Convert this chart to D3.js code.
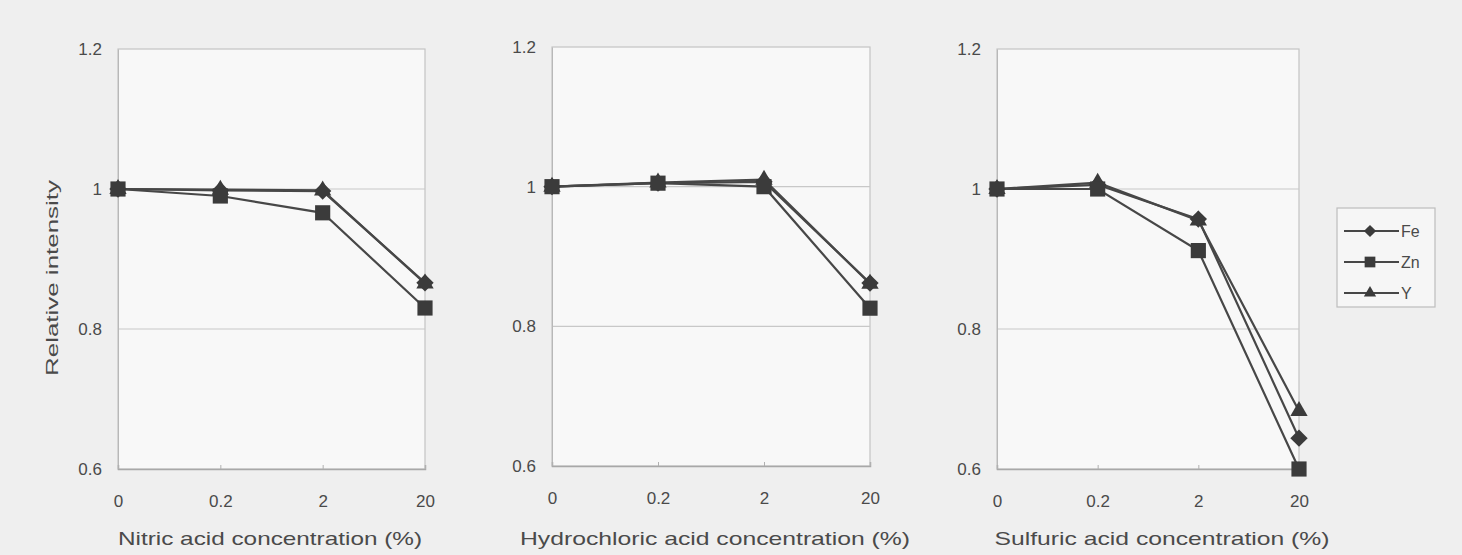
<!DOCTYPE html>
<html>
<head>
<meta charset="utf-8">
<script src="https://cdn.jsdelivr.net/npm/d3@7"></script>
<style>
  html, body { margin: 0; padding: 0; background: #efefef; }
  svg { display: block; }
  text { font-family: "Liberation Sans", Arial, sans-serif; fill: #4a4a4a; }
</style>
</head>
<body>
<svg id="chart" width="1462" height="555"></svg>
<script>
// ---- data ----
const categories = ["0", "0.2", "2", "20"];
const yTicks = [0.6, 0.8, 1, 1.2];
const yTickLabels = ["0.6", "0.8", "1", "1.2"];
const seriesNames = ["Fe", "Zn", "Y"];
const panelTitles = ["Nitric acid concentration (%)", "Hydrochloric acid concentration (%)", "Sulfuric acid concentration (%)"];

const nitricFe = [1.000, 0.998, 0.997, 0.866];
const nitricZn = [1.000, 0.990, 0.966, 0.830];
const nitricY  = [1.000, 0.999, 0.998, 0.865];

const hclFe = [1.000, 1.005, 1.007, 0.862];
const hclZn = [1.000, 1.005, 1.000, 0.826];
const hclY  = [1.000, 1.006, 1.010, 0.861];

const sulfFe = [1.000, 1.006, 0.957, 0.644];
const sulfZn = [1.000, 1.000, 0.912, 0.600];
const sulfY  = [1.000, 1.009, 0.955, 0.683];

// ---- layout ----
const panels = [
  { title: panelTitles[0], series: [nitricFe, nitricZn, nitricY], left: 118, right: 425, top: 49, bottom: 469, titleX: 270, titleW: 304 },
  { title: panelTitles[1], series: [hclFe, hclZn, hclY],          left: 552, right: 870, top: 47, bottom: 466, titleX: 715, titleW: 390 },
  { title: panelTitles[2], series: [sulfFe, sulfZn, sulfY],       left: 997, right: 1299, top: 49, bottom: 469, titleX: 1162, titleW: 335 }
];
const diamondSym = { draw(ctx, size) { const r = Math.sqrt(size) / 2; ctx.moveTo(0, -r); ctx.lineTo(r, 0); ctx.lineTo(0, r); ctx.lineTo(-r, 0); ctx.closePath(); } };
const markerTypes = [diamondSym, d3.symbolSquare, d3.symbolTriangle];
const markerSizes = [300, 230, 130];
const drawOrder = [2, 0, 1]; // Y, Fe, Zn
const ink = "#3b3b3b";

const svg = d3.select("#chart");

panels.forEach((p, pi) => {
  const x = d3.scalePoint().domain(categories).range([p.left, p.right]).padding(0);
  const y = d3.scaleLinear().domain([0.6, 1.2]).range([p.bottom, p.top]);
  const g = svg.append("g");

  g.append("rect")
    .attr("x", p.left).attr("y", y(1.2))
    .attr("width", p.right - p.left).attr("height", y(0.6) - y(1.2))
    .attr("fill", "#f8f8f8").attr("stroke", "#c4c4c4").attr("stroke-width", 1.2);

  g.selectAll("line.grid").data([0.8, 1]).enter().append("line")
    .attr("x1", p.left).attr("x2", p.right)
    .attr("y1", d => y(d)).attr("y2", d => y(d))
    .attr("stroke", "#c8c8c8").attr("stroke-width", 1.2);

  const yAxis = d3.axisLeft(y).tickValues(yTicks)
    .tickFormat((d, i) => yTickLabels[i]).tickSize(0).tickPadding(16);
  const ya = g.append("g").attr("transform", `translate(${p.left},0)`).call(yAxis)
    .attr("font-size", 17).attr("font-family", "'Liberation Sans', Arial, sans-serif");
  ya.select(".domain").attr("stroke", "#b8b8b8");
  ya.selectAll("text").attr("fill", "#4a4a4a");

  const xAxis = d3.axisBottom(x).tickSize(-4).tickPadding(26);
  const xa = g.append("g").attr("transform", `translate(0,${y(0.6)})`).call(xAxis)
    .attr("font-size", 17).attr("font-family", "'Liberation Sans', Arial, sans-serif");
  xa.select(".domain").attr("stroke", "#a8a8a8").attr("stroke-width", 1.5);
  xa.selectAll(".tick line").attr("stroke", "#b0b0b0");
  xa.selectAll("text").attr("fill", "#4a4a4a");

  g.append("text")
    .attr("x", p.titleX).attr("y", 545).attr("text-anchor", "middle")
    .attr("textLength", p.titleW).attr("lengthAdjust", "spacingAndGlyphs")
    .style("font-size", "19px").text(p.title);

  const line = d3.line().x((d, i) => x(categories[i])).y(d => y(d));
  p.series.forEach(vals => {
    g.append("path").datum(vals)
      .attr("d", line).attr("fill", "none")
      .attr("stroke", "#474747").attr("stroke-width", 2.2);
  });
  drawOrder.forEach(si => {
    g.selectAll(null).data(p.series[si]).enter().append("path")
      .attr("d", d3.symbol().type(markerTypes[si]).size(markerSizes[si]))
      .attr("transform", (d, i) => `translate(${x(categories[i])},${y(d)})`)
      .attr("fill", ink);
  });
});

svg.append("text")
  .attr("transform", "translate(58,278) rotate(-90)")
  .attr("text-anchor", "middle")
  .attr("textLength", 196).attr("lengthAdjust", "spacingAndGlyphs")
  .style("font-size", "16px").text("Relative intensity");

const lg = svg.append("g");
lg.append("rect").attr("x", 1337).attr("y", 208).attr("width", 98).attr("height", 99)
  .attr("fill", "#f6f6f6").attr("stroke", "#bdbdbd").attr("stroke-width", 1.2);
const legendY = d3.scalePoint().domain(seriesNames).range([231, 293]);
seriesNames.forEach((name, si) => {
  const yy = legendY(name);
  lg.append("line").attr("x1", 1344).attr("x2", 1399).attr("y1", yy).attr("y2", yy)
    .attr("stroke", "#474747").attr("stroke-width", 2.2);
  lg.append("path")
    .attr("d", d3.symbol().type(markerTypes[si]).size(markerSizes[si] * 0.5))
    .attr("transform", `translate(1370,${yy})`).attr("fill", ink);
  lg.append("text").attr("x", 1401).attr("y", yy + 6).style("font-size", "16px").text(name);
});
</script>
</body>
</html>
